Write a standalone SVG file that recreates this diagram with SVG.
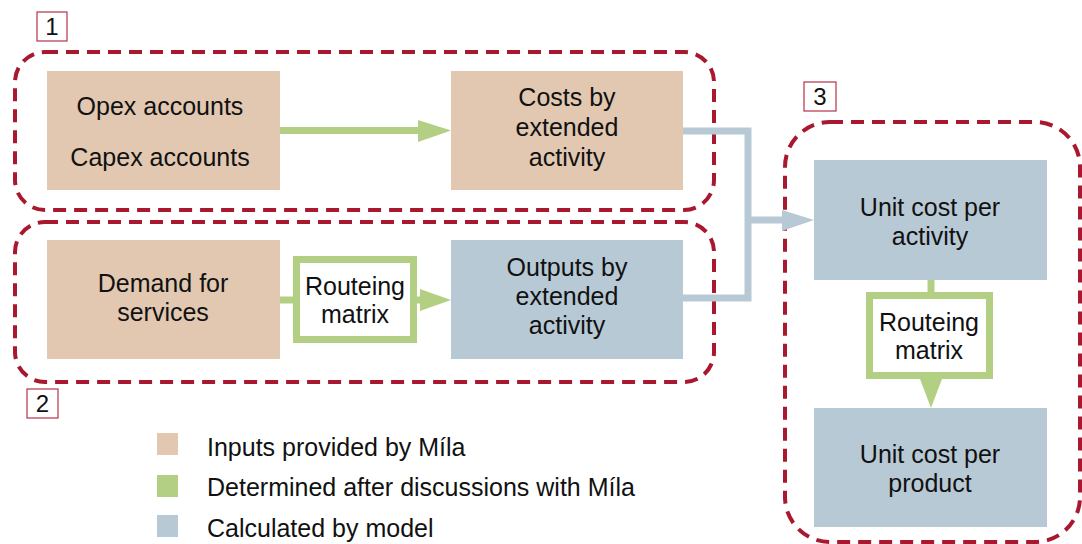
<svg xmlns="http://www.w3.org/2000/svg" width="1082" height="544" viewBox="0 0 1082 544">
<style>
text{font-family:"Liberation Sans",Arial,sans-serif;font-size:25px;fill:#111;}
.c{text-anchor:middle;}
.tan{fill:#E2C8B1;}
.blue{fill:#B8C9D6;}
.green{fill:#B3CF84;}
.grp{fill:none;stroke:#A8182E;stroke-width:4;stroke-dasharray:13 8;}
.num{fill:#fff;stroke:#B5324A;stroke-width:1.2;}
.gline{fill:none;stroke:#B3CF84;stroke-width:7;}
.bline{fill:none;stroke:#B8C9D6;stroke-width:7;}
.rm{fill:#fff;stroke:#B3CF84;stroke-width:7;}
</style>
<rect width="1082" height="544" fill="#fff"/>
<g id="group1">
<rect class="grp" x="15" y="52" width="699" height="158" rx="30"/>
<rect class="num" x="37" y="12" width="30" height="29"/>
<text x="52" y="35" class="c" style="font-size:24px">1</text>
</g>
<g id="group2">
<rect class="grp" x="15" y="222" width="699" height="160" rx="30"/>
<rect class="num" x="27" y="389" width="31" height="29"/>
<text x="42.5" y="412" class="c" style="font-size:24px">2</text>
</g>
<g id="group3">
<rect class="grp" x="785" y="122" width="295" height="420" rx="45"/>
<rect class="num" x="804" y="82" width="32" height="29"/>
<text x="820" y="105" class="c" style="font-size:24px">3</text>
</g>
<g id="connectors">
<line class="gline" x1="280" y1="130.5" x2="420" y2="130.5"/>
<polygon class="green" points="418,120 451,130.5 418,142"/>
<line class="gline" x1="280" y1="300" x2="296" y2="300"/>
<line class="gline" x1="414" y1="300" x2="422" y2="300"/>
<polygon class="green" points="420,289 451,300 420,311"/>
<polyline class="bline" points="683,131 748,131 748,298 683,298"/>
<line class="bline" x1="748" y1="220" x2="785" y2="220"/>
<polygon class="blue" points="782,210 814,220 782,231"/>
<line class="gline" x1="931" y1="280" x2="931" y2="296"/>
<line class="gline" x1="931" y1="376" x2="931" y2="382"/>
<polygon class="green" points="920,379 931,408 942,379"/>
</g>
<g id="opex">
<rect class="tan" x="47" y="71" width="233" height="119"/>
<text x="160" y="115" class="c">Opex accounts</text>
<text x="160" y="166" class="c">Capex accounts</text>
</g>
<g id="costs">
<rect class="tan" x="451" y="71" width="232" height="119"/>
<text x="567" y="106" class="c">Costs by</text>
<text x="567" y="136" class="c">extended</text>
<text x="567" y="166" class="c">activity</text>
</g>
<g id="demand">
<rect class="tan" x="47" y="240" width="233" height="119"/>
<text x="163" y="292" class="c">Demand for</text>
<text x="163" y="321" class="c">services</text>
</g>
<g id="routeing1">
<rect class="rm" x="296.5" y="259.5" width="117" height="80"/>
<text x="355" y="295" class="c">Routeing</text>
<text x="355" y="323" class="c">matrix</text>
</g>
<g id="outputs">
<rect class="blue" x="451" y="240" width="232" height="119"/>
<text x="567" y="276" class="c">Outputs by</text>
<text x="567" y="305" class="c">extended</text>
<text x="567" y="334" class="c">activity</text>
</g>
<g id="unitActivity">
<rect class="blue" x="814" y="160" width="233" height="120"/>
<text x="930" y="216" class="c">Unit cost per</text>
<text x="930" y="245" class="c">activity</text>
</g>
<g id="routeing2">
<rect class="rm" x="869.5" y="295.5" width="120" height="80"/>
<text x="929" y="331" class="c">Routeing</text>
<text x="929" y="359" class="c">matrix</text>
</g>
<g id="unitProduct">
<rect class="blue" x="814" y="408" width="233" height="119"/>
<text x="930" y="463" class="c">Unit cost per</text>
<text x="930" y="492" class="c">product</text>
</g>
<g id="legend">
<rect class="tan" x="157" y="433" width="21" height="22"/>
<text x="207" y="456">Inputs provided by Míla</text>
<rect class="green" x="157" y="475" width="21" height="22"/>
<text x="207" y="496">Determined after discussions with Míla</text>
<rect class="blue" x="157" y="515" width="21" height="22"/>
<text x="207" y="537">Calculated by model</text>
</g>
</svg>
